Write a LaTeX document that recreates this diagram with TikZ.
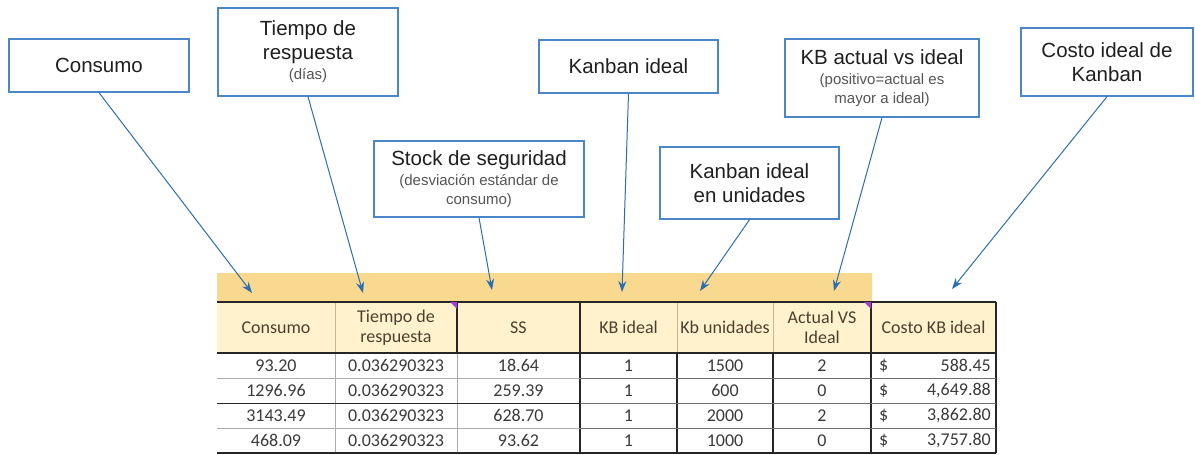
\documentclass[tikz,border=0pt]{standalone}
\usepackage{fontspec}
\setmainfont{Liberation Sans}
\newfontfamily\tabfont{Carlito}
\usetikzlibrary{arrows.meta}
\definecolor{boxblue}{HTML}{4A86C8}
\definecolor{arrblue}{HTML}{2B6CB3}
\definecolor{band}{HTML}{F9D98F}
\definecolor{hdr}{HTML}{FFF2CC}
\definecolor{hdrtext}{HTML}{4B4030}
\definecolor{celltext}{HTML}{3A3A3A}
\definecolor{gline}{HTML}{ABABAB}
\definecolor{mline}{HTML}{6E6E6E}
\definecolor{dline}{HTML}{262626}
\definecolor{tline}{HTML}{C8B88E}
\definecolor{comment}{HTML}{A33FC9}
\definecolor{subgray}{HTML}{555555}
\newcommand{\subl}[1]{{\fontsize{15}{18}\selectfont\color{subgray}#1}}
\begin{document}
\begin{tikzpicture}[x=1pt,y=-1pt,
  callout/.style={draw=boxblue,line width=1.3pt,fill=white,align=center,inner sep=0pt,
    font=\fontsize{20.5}{24}\selectfont,text=black!88},
  pointer/.style={draw=arrblue,line width=1pt,-{Stealth[length=11pt,width=8pt]}},
  hcell/.style={inner sep=0pt,align=center,font={\tabfont\fontsize{18}{20}\selectfont},text=hdrtext},
  dcell/.style={inner sep=0pt,font={\tabfont\fontsize{18}{20}\selectfont},text=celltext},
]
\useasboundingbox (0,0) rectangle (1195,455);

% ---- table background ----
\fill[band] (217,273) rectangle (872,302);
\fill[hdr] (217,302) rectangle (996,353);

% header lines
\draw[tline,line width=0.8pt] (335,302) -- (335,353);
\draw[tline,line width=0.8pt] (677,302) -- (677,353);
\draw[tline,line width=0.8pt] (773,302) -- (773,353);
\draw[dline,line width=1.2pt] (457,302) -- (457,353);
\draw[dline,line width=1.5pt] (580,302) -- (580,453);
\draw[dline,line width=1.2pt] (871,302) -- (871,453);
\draw[dline,line width=1.2pt] (996,302) -- (996,453);
% data verticals
\draw[gline,line width=0.8pt] (335,353) -- (335,453);
\draw[gline,line width=0.8pt] (457,353) -- (457,453);
\draw[dline,line width=1.2pt] (677,353) -- (677,453);
\draw[dline,line width=1.2pt] (773,353) -- (773,453);
% data horizontals
\draw[gline,line width=0.8pt] (217,378) -- (580,378);
\draw[dline,line width=1pt] (217,403) -- (580,403);
\draw[gline,line width=0.8pt] (217,428) -- (580,428);
\draw[mline,line width=0.8pt] (580,378) -- (996,378);
\draw[mline,line width=0.8pt] (580,403) -- (996,403);
\draw[mline,line width=0.8pt] (580,428) -- (996,428);
\draw[dline,line width=1.2pt] (217,453) -- (996,453);
% header top / bottom
\draw[dline,line width=1.2pt] (217,302) -- (996,302);
\draw[dline,line width=1.5pt] (217,353) -- (996,353);
% comment markers
\fill[comment] (450,302) -- (457,302) -- (457,309) -- cycle;
\fill[comment] (864,302) -- (871,302) -- (871,309) -- cycle;

% ---- header texts ----
\node[hcell] (h1) at (276,327.5) {Consumo};
\node[hcell] (h2) at (396,327.5) {Tiempo de\\respuesta};
\node[hcell] (h3) at (518.5,327.5) {SS};
\node[hcell] (h4) at (628.5,327.5) {KB ideal};
\node[hcell] (h5) at (725,327.5) {Kb unidades};
\node[hcell] (h6) at (822,327.5) {Actual VS\\Ideal};
\node[hcell] (h7) at (933.5,327.5) {Costo KB ideal};

% ---- data ----
\node[dcell] (a1) at (276,365.5) {93.20};
\node[dcell] (b1) at (396,365.5) {0.036290323};
\node[dcell] (c1) at (518.5,365.5) {18.64};
\node[dcell] (d1) at (628.5,365.5) {1};
\node[dcell] (e1) at (725,365.5) {1500};
\node[dcell] (f1) at (822,365.5) {2};
\node[dcell,anchor=west] (g1) at (879,365.5) {\$};
\node[dcell,anchor=east] (k1) at (991,365.5) {588.45};

\node[dcell] (a2) at (276,390.5) {1296.96};
\node[dcell] (b2) at (396,390.5) {0.036290323};
\node[dcell] (c2) at (518.5,390.5) {259.39};
\node[dcell] (d2) at (628.5,390.5) {1};
\node[dcell] (e2) at (725,390.5) {600};
\node[dcell] (f2) at (822,390.5) {0};
\node[dcell,anchor=west] (g2) at (879,390.5) {\$};
\node[dcell,anchor=east] (k2) at (991,390.5) {4,649.88};

\node[dcell] (a3) at (276,415.5) {3143.49};
\node[dcell] (b3) at (396,415.5) {0.036290323};
\node[dcell] (c3) at (518.5,415.5) {628.70};
\node[dcell] (d3) at (628.5,415.5) {1};
\node[dcell] (e3) at (725,415.5) {2000};
\node[dcell] (f3) at (822,415.5) {2};
\node[dcell,anchor=west] (g3) at (879,415.5) {\$};
\node[dcell,anchor=east] (k3) at (991,415.5) {3,862.80};

\node[dcell] (a4) at (276,440.5) {468.09};
\node[dcell] (b4) at (396,440.5) {0.036290323};
\node[dcell] (c4) at (518.5,440.5) {93.62};
\node[dcell] (d4) at (628.5,440.5) {1};
\node[dcell] (e4) at (725,440.5) {1000};
\node[dcell] (f4) at (822,440.5) {0};
\node[dcell,anchor=west] (g4) at (879,440.5) {\$};
\node[dcell,anchor=east] (k4) at (991,440.5) {3,757.80};

% ---- callouts ----
\node[callout,minimum width=180pt,minimum height=53pt] (consumo) at (99,65.5) {Consumo};
\node[callout,minimum width=180pt,minimum height=88pt] (tiempo) at (308,52) {Tiempo de\\respuesta\\[-4pt]\subl{(días)}};
\node[callout,minimum width=210pt,minimum height=76pt] (stock) at (479,179) {Stock de seguridad\\[-4pt]\subl{(desviación estándar de}\\[-5pt]\subl{consumo)}};
\node[callout,minimum width=179pt,minimum height=53pt] (kbideal) at (628.5,66.5) {Kanban ideal};
\node[callout,minimum width=179pt,minimum height=72pt] (kbunid) at (749.5,183) {Kanban ideal\\en unidades};
\node[callout,minimum width=194pt,minimum height=78pt] (kbact) at (882,78) {KB actual vs ideal\\[-4pt]\subl{(positivo=actual es}\\[-5pt]\subl{mayor a ideal)}};
\node[callout,minimum width=172pt,minimum height=68pt] (costo) at (1107,62) {Costo ideal de\\Kanban};

% ---- arrow targets ----
\coordinate (t1) at (252,293);
\coordinate (t2) at (363,293);
\coordinate (t3) at (492,290);
\coordinate (t4) at (622,292);
\coordinate (t5) at (700,291);
\coordinate (t6) at (834,291);
\coordinate (t7) at (952,289);

\draw[pointer] (consumo.south) -- (t1);
\draw[pointer] (tiempo.south) -- (t2);
\draw[pointer] (stock.south) -- (t3);
\draw[pointer] (kbideal.south) -- (t4);
\draw[pointer] (kbunid.south) -- (t5);
\draw[pointer] (kbact.south) -- (t6);
\draw[pointer] (costo.south) -- (t7);
\end{tikzpicture}
\end{document}
